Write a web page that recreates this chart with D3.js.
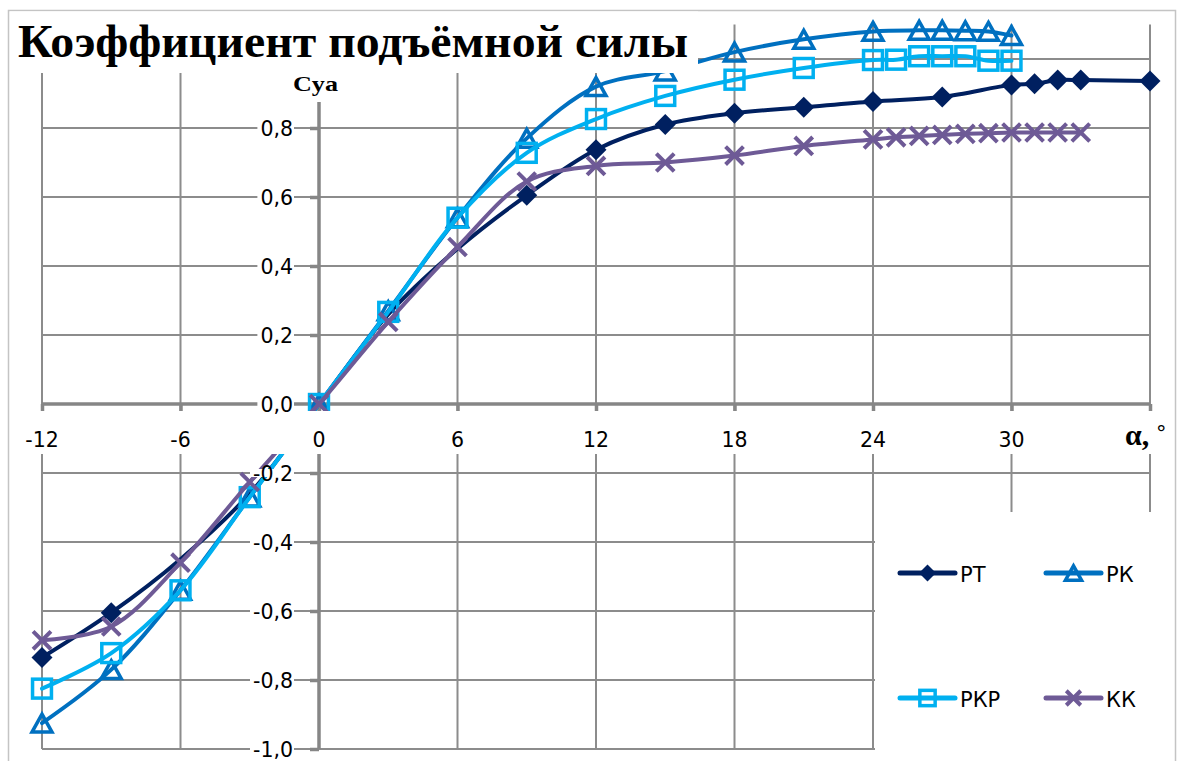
<!DOCTYPE html>
<html>
<head>
<meta charset="utf-8">
<script src="https://cdn.jsdelivr.net/npm/d3@7"></script>
<style>
  html, body { margin: 0; padding: 0; background: #fff; }
  svg { display: block; }
</style>
</head>
<body>
<svg id="chart" width="1178" height="761"></svg>
<script>
// Angle of attack (degrees) and lift coefficient for each configuration
const anglesRT  = [-12, -9, -6, -3, 0, 3, 6, 9, 12, 15, 18, 21, 24, 27, 30, 31, 32, 33, 36];
const valuesRT  = [-0.735, -0.605, -0.45, -0.26, 0, 0.26, 0.45, 0.605, 0.737, 0.81, 0.843, 0.86, 0.877, 0.89, 0.925, 0.928, 0.939, 0.939, 0.936];
// RT points near zero incidence are drawn as line only, without a marker
const unmarkedRT = [-6, -3, 0, 3, 6];

const anglesRK  = [-12, -9, -6, -3, 0, 3, 6, 9, 12, 15, 18, 21, 24, 26, 27, 28, 29, 30];
const valuesRK  = [-0.925, -0.77, -0.54, -0.27, 0, 0.27, 0.54, 0.77, 0.92, 0.965, 1.02, 1.057, 1.08, 1.083, 1.083, 1.082, 1.08, 1.068];

const anglesRKP = [-12, -9, -6, -3, 0, 3, 6, 9, 12, 15, 18, 21, 24, 25, 26, 27, 28, 29, 30];
const valuesRKP = [-0.825, -0.722, -0.54, -0.27, 0, 0.267, 0.54, 0.728, 0.826, 0.893, 0.94, 0.974, 0.997, 0.998, 1.008, 1.008, 1.008, 0.995, 0.995];

const anglesKK  = [-12, -9, -6, -3, 0, 3, 6, 9, 12, 15, 18, 21, 24, 25, 26, 27, 28, 29, 30, 31, 32, 33];
const valuesKK  = [-0.685, -0.645, -0.46, -0.226, 0, 0.238, 0.455, 0.645, 0.69, 0.70, 0.72, 0.748, 0.767, 0.773, 0.777, 0.78, 0.783, 0.785, 0.787, 0.787, 0.787, 0.787];

const seriesNames = ["РТ", "РК", "РКР", "КК"];
const xTicks = [-12, -6, 0, 6, 12, 18, 24, 30];
const xGrid  = [-12, -6, 0, 6, 12, 18, 24, 30, 36];
const yTicks = [-1.0, -0.8, -0.6, -0.4, -0.2, 0.0, 0.2, 0.4, 0.6, 0.8];
const yGrid  = [-1.0, -0.8, -0.6, -0.4, -0.2, 0.0, 0.2, 0.4, 0.6, 0.8, 1.0];

const titleText = "Коэффициент подъёмной силы";
const yTitle = "Cya";
const xTitle = "α,";

const series = [
  { name: seriesNames[0], x: anglesRT,  y: valuesRT,  color: "#002060", marker: "diamond", skip: unmarkedRT },
  { name: seriesNames[1], x: anglesRK,  y: valuesRK,  color: "#0070C0", marker: "triangle", skip: [] },
  { name: seriesNames[2], x: anglesRKP, y: valuesRKP, color: "#00B0F0", marker: "square", skip: [] },
  { name: seriesNames[3], x: anglesKK,  y: valuesKK,  color: "#6E5A96", marker: "cross", skip: [] }
];

const svg = d3.select("#chart");

const x = d3.scaleLinear().domain([-12, 36]).range([42, 1150]);
const y = d3.scaleLinear().domain([-1.0, 1.1]).range([749, 24.5]);

const ru = d3.formatLocale({ decimal: ",", thousands: " ", grouping: [3], currency: ["", ""], minus: "-" });
const fmtY = ru.format(".1f");
const fmtX = ru.format("d");

const gridColor = "#8c8c8c";
const axisColor = "#868686";
const tickFont = "'DejaVu Sans', sans-serif";

// chart frame
svg.append("rect")
  .attr("x", 8.5).attr("y", 10.5).attr("width", 1167).attr("height", 770)
  .attr("fill", "#fff").attr("stroke", "#c4c4c4").attr("stroke-width", 1.5);

// gridlines
const grid = svg.append("g");
grid.selectAll("line.h").data(yGrid).join("line")
  .attr("x1", x(-12)).attr("x2", x(36))
  .attr("y1", d => y(d)).attr("y2", d => y(d))
  .attr("stroke", gridColor).attr("stroke-width", 2);
grid.selectAll("line.v").data(xGrid).join("line")
  .attr("x1", d => x(d)).attr("x2", d => x(d))
  .attr("y1", y(1.1)).attr("y2", y(-1.0))
  .attr("stroke", gridColor).attr("stroke-width", 2);

// axes (lines and tick marks only; labels are placed separately)
const xAxis = d3.axisBottom(x).tickValues(xGrid).tickSize(7).tickFormat("");
const yAxis = d3.axisLeft(y).tickValues(yGrid).tickSize(9).tickFormat("");
const gx = svg.append("g").attr("transform", `translate(0,${y(0)})`).call(xAxis);
const gy = svg.append("g").attr("transform", `translate(${x(0)},0)`).call(yAxis);
[gx, gy].forEach(g => {
  g.select(".domain").attr("stroke", axisColor).attr("stroke-width", 3.5);
  g.selectAll(".tick line").attr("stroke", axisColor).attr("stroke-width", 3.5);
});
gx.select(".domain").attr("d", `M${x(-12)},0H${x(36)}`);
gy.select(".domain").attr("d", `M0,${y(1.1)}V${y(-1.0)}`);

// series
const line = d3.line().curve(d3.curveCatmullRom.alpha(0.5))
  .x(d => x(d[0])).y(d => y(d[1]));

function drawMarker(g, type, color, s) {
  if (type === "diamond") {
    g.append("path").attr("d", `M0,${-s}L${s},0L0,${s}L${-s},0Z`).attr("fill", color);
  } else if (type === "triangle") {
    const h = s * 0.85;
    g.append("path").attr("d", `M0,${-h}L${s * 0.95},${h}L${-s * 0.95},${h}Z`)
      .attr("fill", "none").attr("stroke", color).attr("stroke-width", 3.5);
  } else if (type === "square") {
    const h = s * 0.9;
    g.append("rect").attr("x", -h).attr("y", -h).attr("width", 2 * h).attr("height", 2 * h)
      .attr("fill", "none").attr("stroke", color).attr("stroke-width", 3.5);
  } else {
    const h = s * 0.85;
    g.append("path").attr("d", `M${-h},${-h}L${h},${h}M${-h},${h}L${h},${-h}`)
      .attr("stroke", color).attr("stroke-width", 4).attr("fill", "none");
  }
}

series.forEach(s => {
  const pts = s.x.map((a, i) => [a, s.y[i]]);
  const g = svg.append("g");
  g.append("path").attr("d", line(pts))
    .attr("fill", "none").attr("stroke", s.color).attr("stroke-width", 4)
    .attr("stroke-linecap", "round").attr("stroke-linejoin", "round");
  pts.filter(p => !s.skip.includes(p[0])).forEach(p => {
    const m = g.append("g").attr("transform", `translate(${x(p[0])},${y(p[1])})`);
    drawMarker(m, s.marker, s.color, 10.5);
  });
});

// band behind the category labels
svg.append("rect").attr("x", 18).attr("y", 411).attr("width", 1152).attr("height", 43).attr("fill", "#fff");

// x tick labels
svg.append("g").selectAll("text").data(xTicks).join("text")
  .attr("x", d => x(d)).attr("y", 447)
  .attr("text-anchor", "middle")
  .attr("font-family", tickFont).attr("font-size", 20.5).attr("fill", "#000")
  .text(d => fmtX(d));

// y tick labels with white boxes
const yl = svg.append("g");
yTicks.forEach(v => {
  const g = yl.append("g");
  const t = g.append("text")
    .attr("x", 293).attr("y", y(v) + 7.5)
    .attr("text-anchor", "end")
    .attr("font-family", tickFont).attr("font-size", 20.5).attr("fill", "#000")
    .text(fmtY(v));
  const bb = t.node().getBBox();
  g.insert("rect", "text").attr("x", bb.x - 3).attr("y", y(v) - 4).attr("width", bb.width + 4).attr("height", 8).attr("fill", "#fff");
});

// x axis title
const xt = svg.append("g");
xt.append("rect").attr("x", 1120).attr("y", 412).attr("width", 54).attr("height", 42).attr("fill", "#fff");
xt.append("text").attr("x", 1125).attr("y", 445)
  .attr("font-family", "'Liberation Serif', serif").attr("font-weight", "bold").attr("font-size", 30)
  .text(xTitle);
xt.append("text").attr("x", 1156).attr("y", 441)
  .attr("font-family", tickFont).attr("font-size", 21)
  .text("°");

// title
svg.append("rect").attr("x", 10).attr("y", 11.5).attr("width", 688).attr("height", 61.5).attr("fill", "#fff");
svg.append("text").attr("x", 18).attr("y", 57)
  .attr("font-family", "'Liberation Serif', 'Times New Roman', serif").attr("font-weight", "bold").attr("font-size", 47)
  .attr("textLength", 670).attr("lengthAdjust", "spacingAndGlyphs")
  .text(titleText);

// y axis title
svg.append("rect").attr("x", 288).attr("y", 73).attr("width", 56).attr("height", 29).attr("fill", "#fff");
svg.append("text").attr("x", 293).attr("y", 91)
  .attr("font-family", "'Liberation Serif', 'Times New Roman', serif").attr("font-weight", "bold").attr("font-size", 22)
  .attr("textLength", 45).attr("lengthAdjust", "spacingAndGlyphs")
  .text(yTitle);

// legend
const lg = svg.append("g");
lg.append("rect").attr("x", 875).attr("y", 512).attr("width", 299).attr("height", 260).attr("fill", "#fff");
const legendPos = [[900, 573], [1046, 573], [900, 698], [1046, 698]];
series.forEach((s, i) => {
  const [lx, ly] = legendPos[i];
  const g = lg.append("g").attr("transform", `translate(${lx},${ly})`);
  g.append("line").attr("x1", 0).attr("x2", 55).attr("y1", 0).attr("y2", 0)
    .attr("stroke", s.color).attr("stroke-width", 5).attr("stroke-linecap", "round");
  const m = g.append("g").attr("transform", "translate(27.5,0)");
  drawMarker(m, s.marker, s.color, 8.5);
  g.append("text").attr("x", 60).attr("y", 9)
    .attr("font-family", tickFont).attr("font-size", 21).attr("fill", "#000")
    .text(s.name);
});
</script>
</body>
</html>
